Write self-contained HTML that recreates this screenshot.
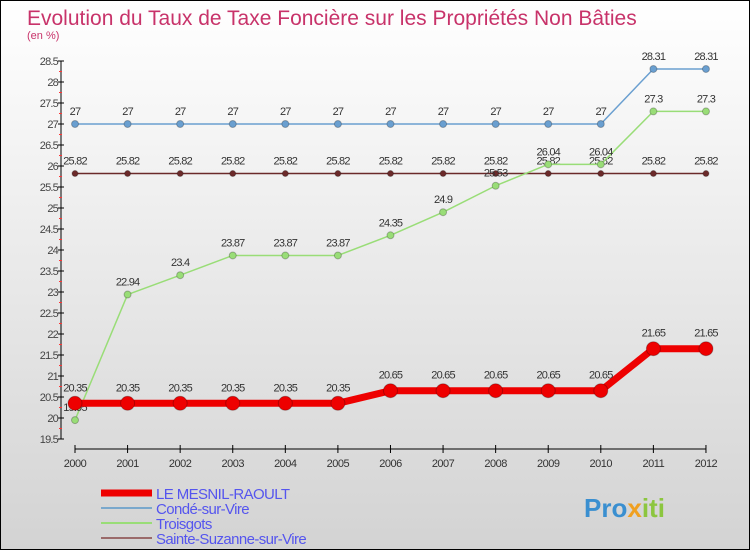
<!DOCTYPE html>
<html><head><meta charset="utf-8"><style>
html,body{margin:0;padding:0}
body{width:750px;height:550px;overflow:hidden;font-family:"Liberation Sans",sans-serif}
#wrap{position:relative;width:748px;height:548px;border:1px solid #000;background:linear-gradient(#fff,#d3d3d3)}
svg{position:absolute;left:0;top:0}
</style></head><body>
<div id="wrap">
<svg id="chart" width="748" height="548">
<text x="26" y="24" font-size="21" fill="#c8336a">Evolution du Taux de Taxe Foncière sur les Propriétés Non Bâties</text>
<text x="26" y="38" font-size="11" fill="#c8336a">(en %)</text>
<g id="axes"></g><g id="series"></g><g id="legend"></g>
<text x="583" y="516" font-size="26" font-weight="bold" fill="#3a8fd0">Pro<tspan fill="#f0a020">x</tspan><tspan fill="#8cc63f">iti</tspan></text>
</svg>
</div>
<script>
const years=[2000,2001,2002,2003,2004,2005,2006,2007,2008,2009,2010,2011,2012];
const mesnil=[20.35,20.35,20.35,20.35,20.35,20.35,20.65,20.65,20.65,20.65,20.65,21.65,21.65];
const conde=[27,27,27,27,27,27,27,27,27,27,27,28.31,28.31];
const troisgots=[19.95,22.94,23.4,23.87,23.87,23.87,24.35,24.9,25.53,26.04,26.04,27.3,27.3];
const sainte=[25.82,25.82,25.82,25.82,25.82,25.82,25.82,25.82,25.82,25.82,25.82,25.82,25.82];
const yTicks=[19.5,20,20.5,21,21.5,22,22.5,23,23.5,24,24.5,25,25.5,26,26.5,27,27.5,28,28.5];
const names=["LE MESNIL-RAOULT","Condé-sur-Vire","Troisgots","Sainte-Suzanne-sur-Vire"];
const NS="http://www.w3.org/2000/svg";
const x=i=>74+i*52.58;
const y=v=>438-(v-19.5)*42;
function mk(t,a,p){const e=document.createElementNS(NS,t);for(const k in a)e.setAttribute(k,a[k]);p.appendChild(e);return e;}
const ax=document.getElementById('axes');
let l=mk('line',{x1:60,y1:y(28.5),x2:60,y2:y(19.5),stroke:'#000'},ax);


l=mk('line',{x1:74,y1:448,x2:x(12),y2:448,stroke:'#000'},ax);


yTicks.forEach(v=>{
  mk('line',{x1:57,y1:y(v),x2:63,y2:y(v),stroke:'#000'},ax);
  mk('line',{x1:58,y1:y(v)+10.5,x2:61,y2:y(v)+10.5,stroke:v>19.5?'#f33':'none'},ax);
  const t=mk('text',{x:57,y:y(v)+4,'font-size':11,'text-anchor':'end',fill:'#444','letter-spacing':'-0.8'},ax);
  t.textContent=v;
  
  
});
years.forEach((yr,i)=>{
  mk('line',{x1:x(i),y1:444,x2:x(i),y2:452,stroke:'#000'},ax);
  const t=mk('text',{x:x(i),y:466,'font-size':11,'text-anchor':'middle',fill:'#333','letter-spacing':'-0.5'},ax);
  t.textContent=yr;
  
  
});
const sg=document.getElementById('series');
function series(vals,color,w,r,name,dy){
  const g=mk('g',{},sg);
  
  
  mk('polyline',{points:vals.map((v,i)=>x(i)+','+y(v)).join(' '),fill:'none',stroke:color,'stroke-width':w,'stroke-linejoin':'round'},g);
  vals.forEach((v,i)=>{
    const c=mk('circle',{cx:x(i),cy:y(v),r:r,fill:color,stroke:'rgba(0,0,0,0.25)'},g);
    
    
    const t=mk('text',{x:x(i),y:y(v)+dy,'font-size':11,'text-anchor':'middle',fill:'#333','letter-spacing':'-0.8'},g);
    t.textContent=String(v);
    
    
  });
}
series(sainte,'#6b2a2a',1.5,3,'series-sainte-suzanne',-9);
series(conde,'#6a9fd0',1.5,3.5,'series-conde',-9);
series(troisgots,'#99dd77',1.5,3.5,'series-troisgots',-9);
series(mesnil,'#ee0000',7,7,'series-mesnil-raoult',-12);
const lg=document.getElementById('legend');
const cols=['#ee0000','#7aa8cc','#99dd77','#9a6a6a'];
const ws=[7,2,2,2];
names.forEach((n,i)=>{
  const yy=492+i*15;
  const g=mk('g',{},lg);
  
  
  mk('line',{x1:100,y1:yy,x2:151,y2:yy,stroke:cols[i],'stroke-width':ws[i]},g);
  const t=mk('text',{x:155,y:yy+6,'font-size':15,fill:'#5555ee','letter-spacing':'-0.6'},g);
  t.textContent=n;
});
</script>
</body></html>
